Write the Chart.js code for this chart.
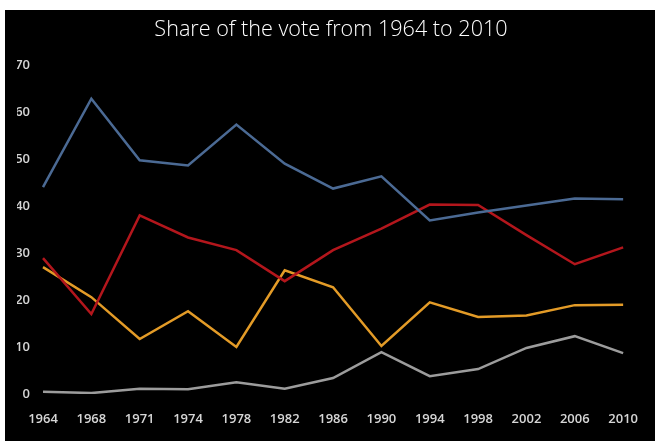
<!DOCTYPE html>
<html>
<head>
<meta charset="utf-8">
<script src="https://cdn.jsdelivr.net/npm/chart.js@4/dist/chart.umd.min.js"></script>
<style>
  html, body { margin: 0; padding: 0; background: #fff; }
  #wrap { position: absolute; left: 5px; top: 10px; width: 650px; height: 431px; background: #000; }
</style>
</head>
<body>
<div id="wrap"><canvas id="chart"></canvas></div>
<script>
/* ── data ── */
const years    = ['1964','1968','1971','1974','1978','1982','1986','1990','1994','1998','2002','2006','2010'];
const blueLine = [44.0, 62.8, 49.7, 48.6, 57.3, 49.0, 43.7, 46.3, 36.9, 38.6, 40.1, 41.6, 41.4];
const redLine  = [28.9, 17.0, 38.0, 33.3, 30.6, 24.0, 30.6, 35.2, 40.3, 40.2, 33.8, 27.6, 31.2];
const orange   = [27.0, 20.6, 11.7, 17.6, 10.0, 26.3, 22.7, 10.2, 19.5, 16.4, 16.7, 18.9, 19.0];
const greyLine = [0.5, 0.2, 1.1, 1.0, 2.5, 1.1, 3.4, 8.9, 3.8, 5.3, 9.8, 12.3, 8.7];
const yTicks   = [0, 10, 20, 30, 40, 50, 60, 70];

const tickFont = { family: '"Open Sans", Lato, sans-serif', size: 13, weight: '600' };

function series(data, colour) {
  return { data, borderColor: colour, borderWidth: 2.5, pointRadius: 0, tension: 0, fill: false };
}

new Chart(document.getElementById('chart'), {
  type: 'line',
  data: {
    labels: years,
    datasets: [
      series(blueLine, '#4b6a94'),
      series(redLine,  '#b3161c'),
      series(orange,   '#e39b27'),
      series(greyLine, '#9c9c9c'),
    ]
  },
  options: {
    responsive: true,
    maintainAspectRatio: false,
    animation: false,
    layout: { padding: { top: 0, right: 10, bottom: 0, left: 12 } },
    plugins: {
      legend: { display: false },
      tooltip: { enabled: false },
      title: {
        display: true,
        text: 'Share of the vote from 1964 to 2010',
        color: '#ffffff',
        font: { family: '"Open Sans", sans-serif', size: 21.6, weight: '300' },
        padding: { top: 7, bottom: 22 },
      },
    },
    scales: {
      x: {
        offset: false,
        afterFit: s => { s.height = 47; },
        grid: { display: false, drawTicks: false },
        border: { display: false },
        ticks: { color: '#d6d6d6', font: tickFont, padding: 17, maxRotation: 0, autoSkip: false },
      },
      y: {
        min: 0, max: 70,
        afterBuildTicks: s => { s.ticks = yTicks.map(v => ({ value: v })); },
        afterFit: s => { s.width = 26; },
        grid: { display: false, drawTicks: false },
        border: { display: false },
        ticks: { color: '#d6d6d6', font: tickFont, padding: 13 },
      },
      // empty right-hand strip, keeps the plot clear of the frame edge
      yRight: {
        position: 'right',
        min: 0, max: 70,
        afterFit: s => { s.width = 12; },
        grid: { display: false, drawTicks: false },
        border: { display: false },
        ticks: { display: false },
      },
    }
  }
});
</script>
</body>
</html>
